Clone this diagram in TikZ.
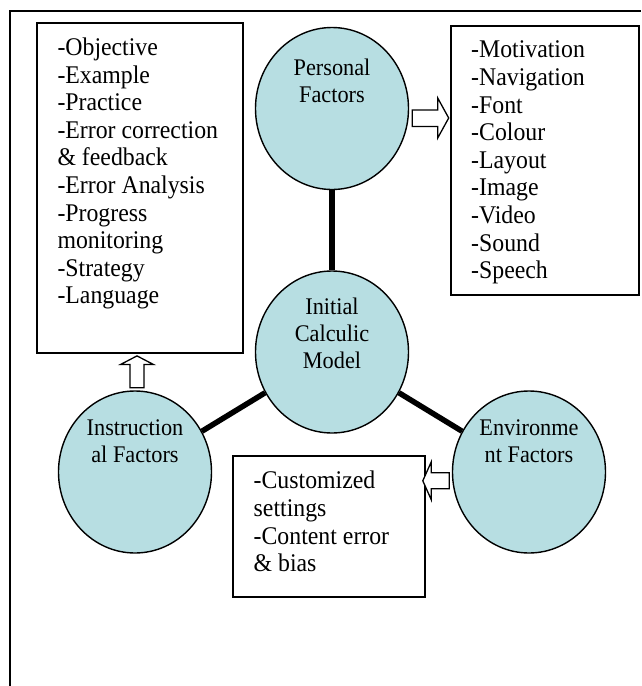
\documentclass[tikz,border=0pt]{standalone}
\usepackage{fontspec}
\setmainfont[FakeStretch=0.935]{Liberation Serif}
\usepackage{xcolor}
\usepackage{tikz}
\usetikzlibrary{positioning, shapes.geometric}
\definecolor{factorblue}{HTML}{B7DEE2}

\begin{document}
\begin{tikzpicture}[x=1pt, y=-1pt,
    factor/.style={ellipse, draw, line width=1.4pt, fill=factorblue,
                   minimum width=153pt, minimum height=162pt, inner sep=0pt},
    factortext/.style={align=center, inner sep=0pt, font=\fontsize{23.85}{26.9}\selectfont},
    listbox/.style={draw, line width=1.5pt, anchor=north west, inner sep=0pt},
    listtext/.style={align=left, inner sep=0pt, font=\fontsize{25.45}{27.6}\selectfont},
    link/.style={line width=5.5pt},
    blockarrow/.style={draw, line width=1.3pt, fill=white}]
  \useasboundingbox (0,0) rectangle (641,686);
  % frame
  \draw[line width=1.6pt] (10,686) -- (10,11) -- (641,11);

  % boxes
  \node[listbox, minimum width=206pt, minimum height=330pt] (instr box) at (36,22) {};
  \node[listbox, minimum width=188pt, minimum height=269pt] (media box) at (450,25) {};
  \node[listbox, minimum width=192pt, minimum height=141pt] (env box) at (232,455) {};

  \node[listtext, below right=15.6pt and 21.3pt of instr box.north west] (instr list) {%
    -Objective\\-Example\\-Practice\\-Error correction\\\& feedback\\%
    -Error Analysis\\-Progress\\monitoring\\-Strategy\\-Language};
  \node[listtext, below right=15.9pt and 21pt of media box.north west] (media list) {%
    -Motivation\\-Navigation\\-Font\\-Colour\\-Layout\\-Image\\-Video\\-Sound\\-Speech};
  \node[listtext, below right=16pt and 21.5pt of env box.north west] (env list) {%
    -Customized\\settings\\-Content error\\\& bias};

  % factors
  \node[factor] (personal) at (332,108.5) {};
  \node[factor] (central) at (332,352) {};
  \node[factor] (instr) at (135,472) {};
  \node[factor] (env) at (529,472) {};

  \draw[link] (personal) -- (central);
  \draw[link] (central) -- (instr);
  \draw[link] (central) -- (env);

  \node[factortext, below=31.8pt of personal.north] (personal text) {Personal\\Factors};
  \node[factortext, below=27.8pt of central.north] (central text) {Initial\\Calculic\\Model};
  \node[factortext, below=29.1pt of instr.north] (instr text) {Instruction\\al Factors};
  \node[factortext, below=29.1pt of env.north] (env text) {Environme\\nt Factors};

  % hollow arrows
  \draw[blockarrow] (personal.east) ++(3,1.5) -- ++(25.5,0) -- ++(0,-12) -- ++(11,20)
    -- ++(-11,20) -- ++(0,-11.5) -- ++(-25.5,0) -- cycle;
  \draw[blockarrow] (instr.north) ++(-5,-2.5) -- ++(0,-23.3) -- ++(-9.5,0) -- ++(16.5,-8.6)
    -- ++(16.5,8.6) -- ++(-9.5,0) -- ++(0,23.3) -- cycle;
  \draw[blockarrow] (env.west) ++(-2.5,0.8) -- ++(-18,0) -- ++(0,-11) -- ++(-8.5,19)
    -- ++(8.5,19) -- ++(0,-11) -- ++(18,0) -- cycle;
\end{tikzpicture}
\end{document}
